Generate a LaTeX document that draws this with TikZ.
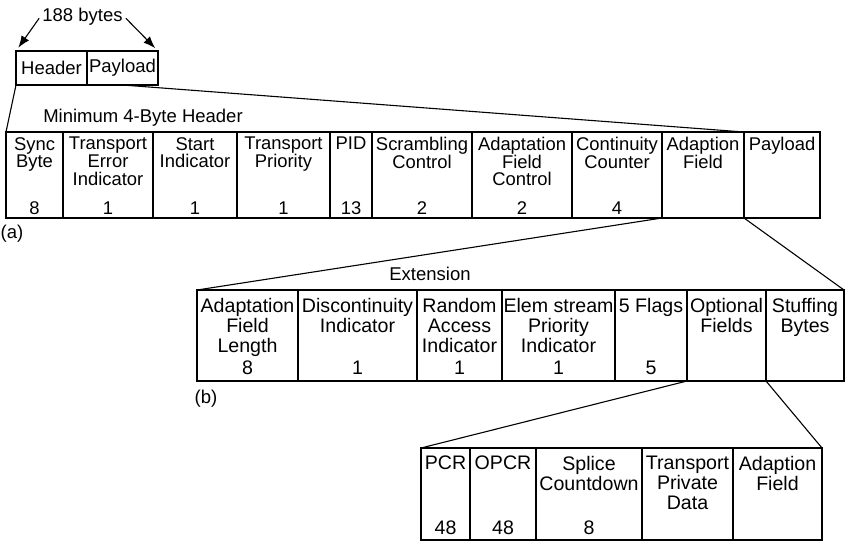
\documentclass[tikz,border=0pt]{standalone}
\usepackage{fontspec}
\setmainfont{Liberation Sans}
\usetikzlibrary{positioning,arrows.meta}

\begin{document}
\begin{tikzpicture}[
    x=1pt, y=-1pt,
    cell/.style={draw, line width=1.1pt, inner sep=0pt, outer sep=0pt},
    rowa/.style={cell, minimum height=86pt},
    rowb/.style={cell, minimum height=91pt},
    rowc/.style={cell, minimum height=92pt},
    txta/.style={inner sep=0pt, align=center, font=\fontsize{18.4}{17.6}\selectfont},
    txtb/.style={inner sep=0pt, align=center, font=\fontsize{19.6}{20}\selectfont},
    lbl/.style={inner sep=0pt, font=\fontsize{18.5}{20}\selectfont},
    zoom/.style={line width=1.1pt},
    arr/.style={-{Latex[length=12pt,width=9pt]}, line width=1.1pt, shorten >=4pt}
]
    \useasboundingbox (0,0) rectangle (845,542);

    % Whole packet
    \node[cell, lbl, minimum width=71pt, minimum height=34pt, anchor=north west] (pkt-hdr) at (16,51) {Header};
    \node[cell, lbl, minimum width=71pt, minimum height=34pt, right=0pt of pkt-hdr] (pkt-pay) {Payload};
    \node[lbl, inner sep=3pt, anchor=base] (bytes) at (82.5,21) {188 bytes};
    \draw[arr] ([yshift=-2pt]bytes.west) -- (pkt-hdr.north west);
    \draw[arr] ([yshift=-2pt]bytes.east) -- (pkt-pay.north east);

    % (a) header fields
    \node[rowa, minimum width=57pt, anchor=north west] (a-sync) at (6,132) {};
    \node[rowa, minimum width=90pt, right=0pt of a-sync] (a-tei) {};
    \node[rowa, minimum width=84pt, right=0pt of a-tei] (a-start) {};
    \node[rowa, minimum width=93pt, right=0pt of a-start] (a-prio) {};
    \node[rowa, minimum width=42pt, right=0pt of a-prio] (a-pid) {};
    \node[rowa, minimum width=100pt, right=0pt of a-pid] (a-scr) {};
    \node[rowa, minimum width=100pt, right=0pt of a-scr] (a-afc) {};
    \node[rowa, minimum width=90pt, right=0pt of a-afc] (a-cc) {};
    \node[rowa, minimum width=82pt, right=0pt of a-cc] (a-adf) {};
    \node[rowa, minimum width=76pt, right=0pt of a-adf] (a-pay) {};

    \node[txta, below=5pt of a-sync.north] (a-sync-t) {Sync\\Byte};
    \node[txta, below=5pt of a-tei.north] (a-tei-t) {Transport\\Error\\Indicator};
    \node[txta, below=5pt of a-start.north] (a-start-t) {Start\\Indicator};
    \node[txta, below=5pt of a-prio.north] (a-prio-t) {Transport\\Priority};
    \node[txta, below=5pt of a-pid.north] (a-pid-t) {PID};
    \node[txta, below=5pt of a-scr.north] (a-scr-t) {Scrambling\\Control};
    \node[txta, below=5pt of a-afc.north] (a-afc-t) {Adaptation\\Field\\Control};
    \node[txta, below=5pt of a-cc.north] (a-cc-t) {Continuity\\Counter};
    \node[txta, below=5pt of a-adf.north] (a-adf-t) {Adaption\\Field};
    \node[txta, below=5pt of a-pay.north] (a-pay-t) {Payload};

    \node[txta, above=3pt of a-sync.south] (a-sync-n) {8};
    \node[txta, above=3pt of a-tei.south] (a-tei-n) {1};
    \node[txta, above=3pt of a-start.south] (a-start-n) {1};
    \node[txta, above=3pt of a-prio.south] (a-prio-n) {1};
    \node[txta, above=3pt of a-pid.south] (a-pid-n) {13};
    \node[txta, above=3pt of a-scr.south] (a-scr-n) {2};
    \node[txta, above=3pt of a-afc.south] (a-afc-n) {2};
    \node[txta, above=3pt of a-cc.south] (a-cc-n) {4};

    \node[lbl, anchor=base] (hdrname) at (143,122) {Minimum 4-Byte Header};
    \node[lbl, anchor=base] (alabel) at (12,238) {(a)};

    \draw[zoom] (pkt-hdr.south west) -- (a-sync.north west);
    \draw[zoom] (pkt-pay.south) -- (a-adf.north east);

    % (b) adaptation field
    \node[rowb, minimum width=101pt, anchor=north west] (b-len) at (197,290) {};
    \node[rowb, minimum width=119pt, right=0pt of b-len] (b-disc) {};
    \node[rowb, minimum width=85pt, right=0pt of b-disc] (b-rai) {};
    \node[rowb, minimum width=113pt, right=0pt of b-rai] (b-esp) {};
    \node[rowb, minimum width=72pt, right=0pt of b-esp] (b-flags) {};
    \node[rowb, minimum width=79pt, right=0pt of b-flags] (b-opt) {};
    \node[rowb, minimum width=78pt, right=0pt of b-opt] (b-stf) {};

    \node[txtb, below=8pt of b-len.north] (b-len-t) {Adaptation\\Field\\Length};
    \node[txtb, below=8pt of b-disc.north] (b-disc-t) {Discontinuity\\Indicator};
    \node[txtb, below=8pt of b-rai.north] (b-rai-t) {Random\\Access\\Indicator};
    \node[txtb, below=8pt of b-esp.north] (b-esp-t) {Elem stream\\Priority\\Indicator};
    \node[txtb, below=8pt of b-flags.north] (b-flags-t) {5 Flags};
    \node[txtb, below=8pt of b-opt.north] (b-opt-t) {Optional\\Fields};
    \node[txtb, below=8pt of b-stf.north] (b-stf-t) {Stuffing\\Bytes};

    \node[txtb, above=6pt of b-len.south] (b-len-n) {8};
    \node[txtb, above=6pt of b-disc.south] (b-disc-n) {1};
    \node[txtb, above=6pt of b-rai.south] (b-rai-n) {1};
    \node[txtb, above=6pt of b-esp.south] (b-esp-n) {1};
    \node[txtb, above=6pt of b-flags.south] (b-flags-n) {5};

    \node[lbl, anchor=base] (extname) at (430,280) {Extension};
    \node[lbl, anchor=base] (blabel) at (206,403) {(b)};

    \draw[zoom] (a-adf.south west) -- (b-len.north west);
    \draw[zoom] (a-adf.south east) -- (b-stf.north east);

    % optional fields
    \node[rowc, minimum width=49pt, anchor=north west] (c-pcr) at (421,448) {};
    \node[rowc, minimum width=66pt, right=0pt of c-pcr] (c-opcr) {};
    \node[rowc, minimum width=106pt, right=0pt of c-opcr] (c-splice) {};
    \node[rowc, minimum width=91pt, right=0pt of c-splice] (c-tpd) {};
    \node[rowc, minimum width=89pt, right=0pt of c-tpd] (c-adf) {};

    \node[txtb, below=8pt of c-pcr.north] (c-pcr-t) {PCR};
    \node[txtb, below=8pt of c-opcr.north] (c-opcr-t) {OPCR};
    \node[txtb, below=8pt of c-splice.north] (c-splice-t) {Splice\\Countdown};
    \node[txtb, below=8pt of c-tpd.north] (c-tpd-t) {Transport\\Private\\Data};
    \node[txtb, below=8pt of c-adf.north] (c-adf-t) {Adaption\\Field};

    \node[txtb, above=5pt of c-pcr.south] (c-pcr-n) {48};
    \node[txtb, above=5pt of c-opcr.south] (c-opcr-n) {48};
    \node[txtb, above=5pt of c-splice.south] (c-splice-n) {8};

    \draw[zoom] (b-opt.south west) -- (c-pcr.north west);
    \draw[zoom] (b-opt.south east) -- (c-adf.north east);
\end{tikzpicture}
\end{document}
